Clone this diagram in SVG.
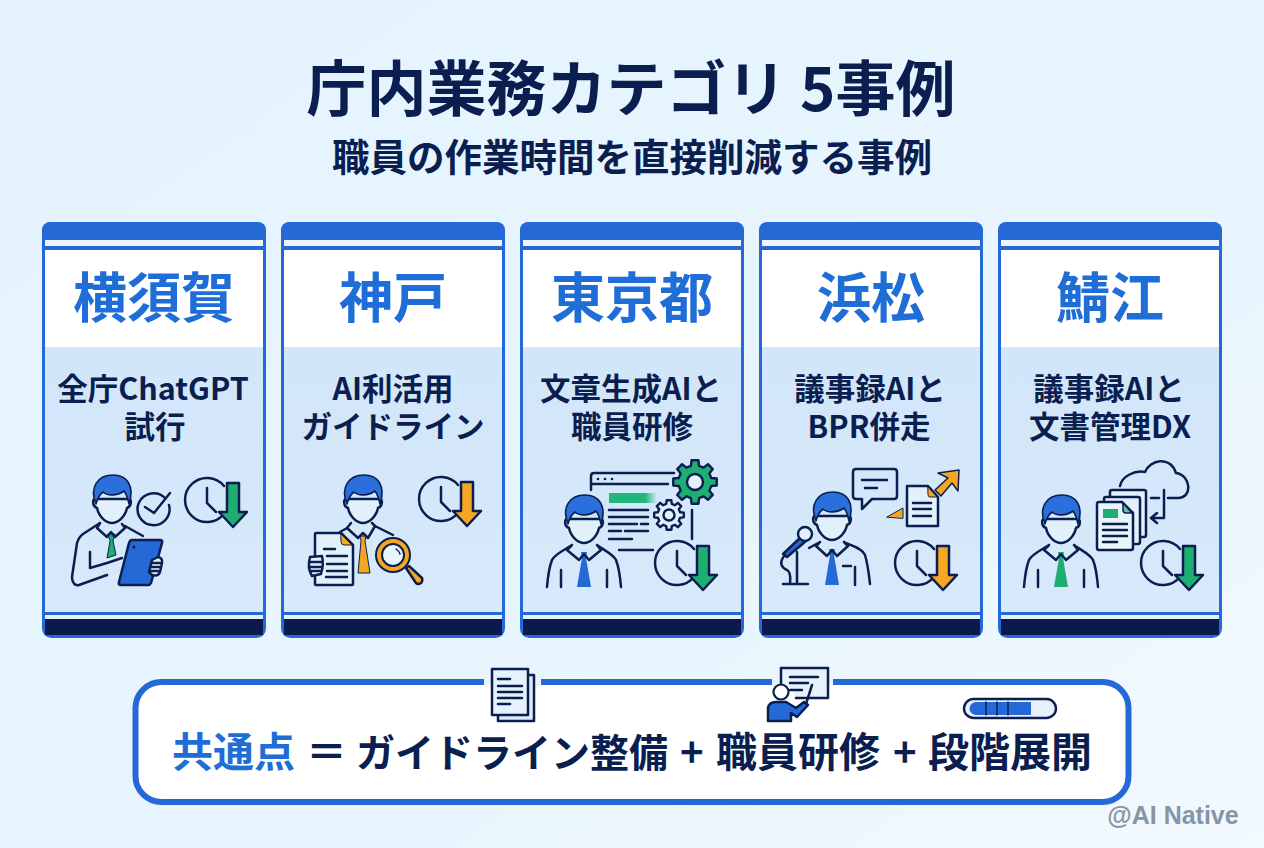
<svg xmlns="http://www.w3.org/2000/svg" width="1264" height="848" viewBox="0 0 1264 848">
<style>
text{font-family:"Noto Sans CJK JP","Liberation Sans",sans-serif;font-weight:700;fill:#0a1f50;text-anchor:middle}
.city{font-size:54px;fill:#1f6dd6}
.sub{font-size:30.500px}
.foot{font-size:41px;text-anchor:start}
.ln{fill:none;stroke:#0a1f50;stroke-width:2.500;stroke-linecap:round;stroke-linejoin:round}
.fl{stroke:#0a1f50;stroke-width:2.500;stroke-linejoin:round;stroke-linecap:round}
.bl{fill:#2469d6}.gr{fill:#1fae72}.or{fill:#f5a623}.pale{fill:#e2f0fc}
</style>
<defs>
<linearGradient id="bg" x1="0" y1="0" x2="1" y2="1"><stop offset="0" stop-color="#e4f3fe"/><stop offset=".6" stop-color="#e8f5fe"/><stop offset="1" stop-color="#f2f9ff"/></linearGradient>
<linearGradient id="panel" x1="0" y1="0" x2="0" y2="1"><stop offset="0" stop-color="#d2e6f9"/><stop offset="1" stop-color="#d7e9fb"/></linearGradient>
<linearGradient id="fade" x1="0" y1="0" x2="1" y2="0"><stop offset=".75" stop-color="#1fb87a"/><stop offset="1" stop-color="#1fb87a" stop-opacity="0"/></linearGradient>
<g id="head">
<path class="ln" style="fill:#e2f0fc" d="M-16,24C-20,23-20,31-15,33C-13,42-6,48 0,48C6,48 13,42 15,33C20,31 20,23 16,24Z"/>
<path class="fl" style="stroke-width:1.600;fill:#2a6fdc" d="M-16,29C-23,12-14,0 1,0C15,0 23,11 17,29C16,24 15,20 12,16C5,21-5,21-9,17C-13,20-15,25-16,29Z"/>
</g>
<g id="suit">
<path class="ln" d="M-37,92C-36,80-34,70-32,65C-30,60-20,55-12,50M37,92C36,80 34,70 32,65C30,60 20,55 13,50M-12,50L-17,55L-5,65L0,59L5,65L17,55L13,50M-23,75V92M23,75V92"/>
</g>
<g id="clock"><path class="ln" d="M17,-14A22,22 0 1 0 17,14M0,-12V3L9,12"/></g>
<path id="down" class="fl" d="M-6,-17H6V12H14L0,27L-14,12H-6Z"/>
<path id="gear" d="M73.7,-18.4L98.8,-15.6L98.8,15.6L73.7,18.4L65.1,39.1L80.9,58.8L58.8,80.9L39.1,65.1L18.4,73.7L15.6,98.8L-15.6,98.8L-18.4,73.7L-39.1,65.1L-58.8,80.9L-80.9,58.8L-65.1,39.1L-73.7,18.4L-98.8,15.6L-98.8,-15.6L-73.7,-18.4L-65.1,-39.1L-80.9,-58.8L-58.8,-80.9L-39.1,-65.1L-18.4,-73.7L-15.6,-98.8L15.6,-98.8L18.4,-73.7L39.1,-65.1L58.8,-80.9L80.9,-58.8L65.1,-39.1Z"/>
<g id="card">
<rect x="1.500" y="1.500" width="221" height="413" rx="8" fill="#fff" stroke="#2469d6" stroke-width="3"/>
<path class="bl" d="M0,18V8A8,8 0 0 1 8,0H216A8,8 0 0 1 224,8V18Z"/>
<rect x="3" y="18" width="218" height="6" fill="#eef6fd"/>
<rect x="3" y="24" width="218" height="4" fill="#2469d6"/>
<rect x="3" y="125" width="218" height="265" fill="url(#panel)"/>
<rect x="3" y="390" width="218" height="3" fill="#2469d6"/>
<rect x="3" y="393" width="218" height="4" fill="#e6f1fb"/>
<rect x="3" y="397" width="218" height="16" fill="#0a1a4d"/>
</g>
</defs>
<rect id="background" width="1264" height="848" fill="url(#bg)"/>
<g id="heading">
<text x="631" y="111" font-size="60">庁内業務カテゴリ 5事例</text>
<text x="632" y="171" font-size="37.500">職員の作業時間を直接削減する事例</text>
</g>
<g id="card-yokosuka">
<use href="#card" x="42" y="222"/>
<text class="city" x="154" y="318">横須賀</text>
<text class="sub"><tspan x="153" y="400">全庁ChatGPT</tspan><tspan x="155" y="438">試行</tspan></text>
<use href="#head" x="112" y="475"/>
<path class="ln" d="M100,523L83,534C80,536 78,540 77,543L72,577C72,583 75,586 79,585L107,575M90,552V568L107,563L122,558M125,526L143,536"/>
<path class="gr fl" style="stroke-width:1" d="M108,534H115L113,541L116,555L107,558L110,541Z"/>
<path class="ln" d="M100,523L97,528L107,537L111,532L115,537L125,528L122,524"/>
<path class="bl fl" d="M132,540H160Q163,540 162,543L151,583Q150,585 148,585H121Q118,585 119,582L129,543Q130,540 132,540Z"/>
<circle cx="134" cy="547" r="1.500" fill="#0a1f50"/>
<path class="pale ln" d="M152,560L158,557Q163,558 162,563L160,572Q158,577 152,575L149,572Z"/>
<path class="ln" d="M151,563H160M150,567H160M149,571H158"/>
<path class="ln" d="M165,498A16,16 0 1 0 169,505M145,507L154,513L170,493"/>
<g transform="translate(207,500)"><use href="#clock"/><use href="#down" x="26" class="gr"/></g>
</g>
<g id="card-kobe">
<use href="#card" x="281" y="222"/>
<text class="city" x="393" y="318">神戸</text>
<text class="sub"><tspan x="393" y="400">AI利活用</tspan><tspan x="393" y="438">ガイドライン</tspan></text>
<use href="#head" x="363" y="475"/>
<path class="or fl" style="stroke-width:1" d="M360,536H366L365,541L370,573H358L361,541Z"/>
<path class="ln" d="M347,528L340,532M375,526L393,535M351,523L347,528L358,538L363,533L368,538L375,526L372,523"/>
<path class="ln" style="fill:#e2f0fc" d="M316,533H341L353,545V584Q353,585 352,585H316Q315,585 315,584V534Q315,533 316,533Z"/>
<path class="or fl" style="stroke-width:1" d="M341,534L352,545H344Q341,545 341,542Z"/>
<path class="ln" d="M324,549H335M327,556H347M327,564H347M327,571H347M326,577H347"/>
<path class="pale ln" d="M310,557L322,556Q324,564 321,574L312,576Q307,568 310,557Z"/>
<path class="ln" d="M310,562H321M310,567H321M311,571H320"/>
<path class="fl" fill="#f5a623" d="M406,568L409,566L422,578Q423,581 421,583Q418,585 416,583Z"/>
<circle cx="393" cy="555" r="17" fill="#f5a623" stroke="#0a1f50" stroke-width="2"/>
<circle cx="393" cy="555" r="11" fill="#eaf4fd" stroke="#0a1f50" stroke-width="2"/>
<path class="ln" style="stroke-width:1.500" d="M396,549Q399,551 400,554"/>
<g transform="translate(441,499)"><use href="#clock"/><use href="#down" x="26" class="or"/></g>
</g>
<g id="card-tokyo">
<use href="#card" x="520" y="222"/>
<text class="city" x="632" y="318">東京都</text>
<text class="sub"><tspan x="631" y="400">文章生成AIと</tspan><tspan x="632" y="438">職員研修</tspan></text>
<use href="#head" x="584" y="495"/>
<path class="bl" d="M581,552H587L586,558L591,587H577L582,558Z"/>
<use href="#suit" x="584" y="495"/>
<path class="ln" d="M591,490V476Q591,473 594,473H674M591,484H668"/>
<circle cx="598" cy="479" r="1.300" fill="#0a1f50"/><circle cx="605" cy="479" r="1.300" fill="#0a1f50"/><circle cx="612" cy="479" r="1.300" fill="#0a1f50"/>
<rect x="609" y="493" width="48" height="10" fill="url(#fade)"/>
<path class="ln" d="M609,510H648M609,517H648M609,524H637M641,524H648M609,531H621M625,531H648M609,539H632M619,550H653M692,510V539"/>
<use href="#gear" transform="translate(695,482) scale(.22)" fill="#1fae72" stroke="#0a1f50" stroke-width="11" stroke-linejoin="round"/>
<circle cx="695" cy="482" r="8" fill="#e2f0fc" stroke="#0a1f50" stroke-width="2.400"/>
<use href="#gear" transform="translate(669,515) scale(.15)" fill="#e2f0fc" stroke="#0a1f50" stroke-width="16" stroke-linejoin="round"/>
<circle cx="669" cy="515" r="5.500" fill="#e2f0fc" stroke="#0a1f50" stroke-width="2.400"/>
<g transform="translate(677,563)"><use href="#clock"/><use href="#down" x="26" class="gr"/></g>
</g>
<g id="card-hamamatsu">
<use href="#card" x="759" y="222"/>
<text class="city" x="871" y="318">浜松</text>
<text class="sub"><tspan x="870" y="400">議事録AIと</tspan><tspan x="869" y="438">BPR併走</tspan></text>
<use href="#head" x="832" y="492"/>
<path class="bl" d="M829,549H835L834,555L839,585H825L830,555Z"/>
<path class="ln" d="M820,542L809,548M844,542C852,546 862,548 865,555C868,565 869,575 870,584M820,542L816,546L827,556L832,550L837,556L848,546L844,542M843,566H851M855,567V585"/>
<path class="ln" d="M856,469H894Q897,469 897,472V496Q897,499 894,499H872L862,509V499H856Q853,499 853,496V472Q853,469 856,469Z"/>
<path class="ln" d="M862,480H887M865,488H877"/>
<path class="ln" style="fill:#e2f0fc" d="M907,486H928L938,497V526H907Z"/>
<path class="or fl" style="stroke-width:1" d="M928,487L937,497H930Q928,497 928,495Z"/>
<path class="ln" d="M913,503H931M913,509H931M913,516H931"/>
<path class="or fl" style="stroke-width:1" d="M887,517L903,508V518Z"/>
<path class="or fl" style="stroke-width:1.500" d="M935,490L948,478L938,473L959,470L958,491L952,483L941,496Z"/>
<path class="bl fl" d="M801,537L806,541L787,557L783,554Z"/>
<circle cx="805" cy="534" r="7" class="pale" stroke="#0a1f50" stroke-width="2.400"/>
<path class="ln" d="M785,555C778,563 782,568 787,570C792,573 790,580 790,584M797,552V584M783,584H808"/>
<g transform="translate(917,563)"><use href="#clock"/><use href="#down" x="26" class="or"/></g>
</g>
<g id="card-sabae">
<use href="#card" x="998" y="222"/>
<text class="city" x="1110" y="318">鯖江</text>
<text class="sub"><tspan x="1109" y="400">議事録AIと</tspan><tspan x="1110" y="438">文書管理DX</tspan></text>
<use href="#head" x="1061" y="495"/>
<path class="gr" d="M1058,552H1064L1063,558L1068,587H1054L1059,558Z"/>
<use href="#suit" x="1061" y="495"/>
<path class="ln" d="M1120,486C1122,476 1135,470 1145,472C1150,460 1170,455 1176,473C1191,475 1193,498 1178,498H1168M1151,498H1159M1164,490V518H1152M1157,513L1151,518L1157,523"/>
<path class="ln" style="fill:#e2f0fc" d="M1112,490H1144Q1146,490 1146,492V535Q1146,537 1144,537H1112Q1110,537 1110,535V492Q1110,490 1112,490Z"/>
<path class="ln" style="fill:#e2f0fc" d="M1106,497H1138Q1140,497 1140,499V542Q1140,544 1138,544H1106Q1104,544 1104,542V499Q1104,497 1106,497Z"/>
<path class="ln" style="fill:#eaf4fd" d="M1099,502H1122L1133,513V548Q1133,550 1131,550H1099Q1097,550 1097,548V504Q1097,502 1099,502Z"/>
<path class="fl" fill="#5cc3b0" style="stroke-width:1.500" d="M1123,503L1132,513H1126Q1123,513 1123,510Z"/>
<rect x="1103" y="509" width="15" height="9" fill="#1fae72"/>
<path class="ln" d="M1103,524H1127M1103,530H1127M1103,536H1127M1103,542H1117"/>
<g transform="translate(1163,563)"><use href="#clock"/><use href="#down" x="26" class="gr"/></g>
</g>
<g id="summary">
<rect x="135.500" y="682" width="993" height="120" rx="26" fill="#fff" stroke="#2469d6" stroke-width="6"/>
<rect x="484" y="672" width="57" height="13" fill="#e9f5fe"/>
<rect x="484" y="685" width="57" height="12" fill="#fff"/>
<rect x="772" y="672" width="61" height="13" fill="#e9f5fe"/>
<rect x="772" y="685" width="61" height="12" fill="#fff"/>
<path class="ln" style="fill:#dcecfb" d="M498,675H534V721H498Z"/>
<path class="ln" style="fill:#e6f2fc" d="M492,669H528V715H492Z"/>
<path class="ln" d="M498,679H510M498,686H522M498,692H522M498,698H522M498,704H510"/>
<path class="ln" style="fill:#e6f2fc" d="M781,668H828V698H796"/>
<path class="ln" d="M781,668V685M790,677H818M790,683H808M790,690H802M812,685L806,704"/>
<circle cx="781" cy="692" r="7.500" fill="#fff" stroke="#0a1f50" stroke-width="2.200"/>
<path class="bl fl" d="M768,721V708Q769,702 776,702H786L796,708L804,702L808,705L797,717L791,713V721Z"/>
<rect x="964" y="699" width="92" height="19" rx="9.500" fill="#e6f1fb" stroke="#0a1f50" stroke-width="2.400"/>
<path class="bl" d="M976,702H1031V715H976A6.500,6.500 0 0 1 976,702Z"/>
<path class="ln" style="stroke-width:1.500" d="M986,702V715M997,702V715M1008,702V715"/>
<text class="foot" style="fill:#1f6dd6" x="172" y="767">共通点</text>
<text class="foot" x="306" y="767">＝</text>
<text class="foot" style="font-size:39px" x="356" y="767">ガイドライン整備</text>
<text class="foot" style="font-size:40px" x="680" y="767">+</text>
<text class="foot" x="716" y="767">職員研修</text>
<text class="foot" style="font-size:40px" x="893" y="767">+</text>
<text class="foot" x="928" y="767">段階展開</text>
</g>
<text id="watermark" x="1173" y="824" font-size="25" style="font-family:'Liberation Sans',sans-serif;fill:#8795a5">@AI Native</text>
</svg>
